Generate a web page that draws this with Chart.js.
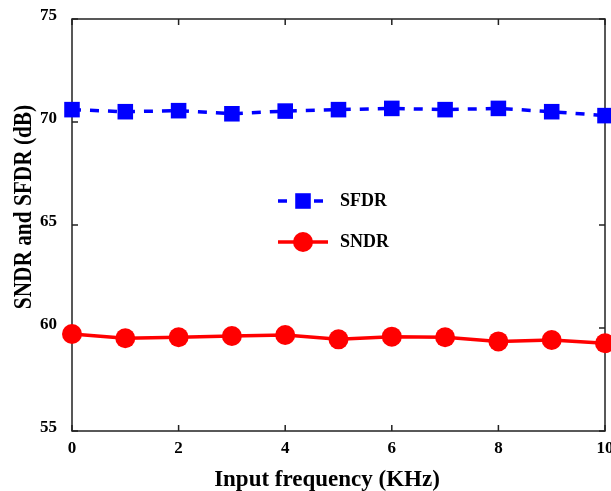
<!DOCTYPE html>
<html lang="en">

<head>
  <meta charset="UTF-8" />
  <title>SNDR and SFDR vs input frequency</title>
  <script src="https://cdn.jsdelivr.net/npm/chart.js"></script>
  <style>
    body {
      margin: 0;
      background: #ffffff;
    }

    #chart-container {
      width: 611px;
      height: 491px;
      position: relative;
    }
  </style>
</head>

<body>

  <div id="chart-container">
    <canvas id="dynChart"></canvas>
  </div>

  <script>
    // Input frequency (KHz)
    const freqs = [0, 1, 2, 3, 4, 5, 6, 7, 8, 9, 10];

    // Measured values (dB)
    const sfdr = [70.60, 70.50, 70.55, 70.40, 70.53, 70.60, 70.66, 70.60, 70.66, 70.50, 70.31];
    const sndr = [59.71, 59.50, 59.55, 59.61, 59.66, 59.45, 59.58, 59.55, 59.35, 59.42, 59.26];

    // Axis ticks
    const xTicks = [0, 2, 4, 6, 8, 10];
    const yTicks = [55, 60, 65, 70, 75];

    const xTitle = 'Input frequency (KHz)';
    const yTitle = 'SNDR and SFDR (dB)';

    const serif = '"Liberation Serif", "Times New Roman", serif';
    const BLUE = '#0000ff';
    const RED = '#ff0000';

    // box around the plot with small inward tick marks
    const framePlugin = {
      id: 'frame',
      beforeDatasetsDraw(chart) {
        const { ctx, chartArea: a, scales } = chart;
        const tl = 6;
        ctx.save();
        ctx.strokeStyle = '#222';
        ctx.lineWidth = 1.5;
        ctx.strokeRect(a.left, a.top, a.right - a.left, a.bottom - a.top);
        ctx.beginPath();
        xTicks.forEach(v => {
          const px = scales.x.getPixelForValue(v);
          ctx.moveTo(px, a.bottom); ctx.lineTo(px, a.bottom - tl);
          ctx.moveTo(px, a.top); ctx.lineTo(px, a.top + tl);
        });
        yTicks.forEach(v => {
          const py = scales.y.getPixelForValue(v);
          ctx.moveTo(a.left, py); ctx.lineTo(a.left + tl, py);
          ctx.moveTo(a.right, py); ctx.lineTo(a.right - tl, py);
        });
        ctx.stroke();
        ctx.restore();
      }
    };

    // axis titles, placed by hand (the vertical one is a bit condensed)
    const titlesPlugin = {
      id: 'axisTitles',
      afterDraw(chart) {
        const ctx = chart.ctx;
        ctx.save();
        ctx.fillStyle = '#000';
        ctx.textAlign = 'center';
        ctx.textBaseline = 'alphabetic';
        ctx.font = 'bold 23px ' + serif;
        ctx.fillText(xTitle, 327, 486);
        ctx.translate(31, 207);
        ctx.rotate(-Math.PI / 2);
        ctx.scale(0.82, 1);
        ctx.font = 'bold 26px ' + serif;
        ctx.fillText(yTitle, 0, 0);
        ctx.restore();
      }
    };

    // legend inside the plot, sample line with the marker in the middle
    const legendPlugin = {
      id: 'innerLegend',
      afterDraw(chart) {
        const ctx = chart.ctx;
        const x0 = 278, x1 = 328, xm = 303;
        const rows = [
          { y: 201, ds: chart.data.datasets[0] },
          { y: 242, ds: chart.data.datasets[1] }
        ];
        ctx.save();
        rows.forEach(r => {
          const ds = r.ds;
          ctx.strokeStyle = ds.borderColor;
          ctx.lineWidth = ds.borderWidth;
          ctx.setLineDash(ds.borderDash || []);
          ctx.beginPath();
          ctx.moveTo(x0, r.y); ctx.lineTo(x1, r.y);
          ctx.stroke();
          ctx.setLineDash([]);
          ctx.fillStyle = ds.pointBackgroundColor;
          if (ds.pointStyle === 'rect') {
            const s = ds.pointRadius * Math.SQRT1_2;
            ctx.fillRect(xm - s, r.y - s, 2 * s, 2 * s);
          } else {
            ctx.beginPath();
            ctx.arc(xm, r.y, ds.pointRadius, 0, Math.PI * 2);
            ctx.fill();
          }
          ctx.fillStyle = '#000';
          ctx.font = 'bold 18px ' + serif;
          ctx.textBaseline = 'middle';
          ctx.fillText(ds.label, 340, r.y);
        });
        ctx.restore();
      }
    };

    const ctx = document.getElementById('dynChart').getContext('2d');

    new Chart(ctx, {
      type: 'line',
      data: {
        labels: freqs,
        datasets: [
          {
            label: 'SFDR',
            data: freqs.map((f, i) => ({ x: f, y: sfdr[i] })),
            borderColor: BLUE,
            borderWidth: 3.5,
            borderDash: [9, 9],
            pointStyle: 'rect',
            pointRadius: 11,
            pointBackgroundColor: BLUE,
            pointBorderWidth: 0,
            tension: 0,
            clip: false
          },
          {
            label: 'SNDR',
            data: freqs.map((f, i) => ({ x: f, y: sndr[i] })),
            borderColor: RED,
            borderWidth: 3.5,
            pointStyle: 'circle',
            pointRadius: 10,
            pointBackgroundColor: RED,
            pointBorderWidth: 0,
            tension: 0,
            clip: false
          }
        ]
      },
      options: {
        responsive: true,
        maintainAspectRatio: false,
        animation: false,
        layout: { autoPadding: false, padding: { top: 19, right: 6, left: 0, bottom: 0 } },
        plugins: {
          legend: { display: false },
          tooltip: { enabled: false }
        },
        scales: {
          x: {
            type: 'linear',
            min: 0,
            max: 10,
            afterFit: s => { s.height = 60; s.paddingRight = 6; },
            afterBuildTicks: s => { s.ticks = xTicks.map(v => ({ value: v })); },
            grid: { display: false, drawTicks: false },
            border: { display: false },
            ticks: {
              padding: 7,
              color: '#000',
              font: { family: serif, size: 17, weight: 'bold' }
            }
          },
          y: {
            min: 55,
            max: 75,
            afterFit: s => { s.width = 72; s.paddingTop = 0; s.paddingBottom = 0; },
            afterBuildTicks: s => { s.ticks = yTicks.map(v => ({ value: v })); },
            grid: { display: false, drawTicks: false },
            border: { display: false },
            ticks: {
              padding: 15,
              labelOffset: -3,
              color: '#000',
              font: { family: serif, size: 17, weight: 'bold' }
            }
          }
        }
      },
      plugins: [framePlugin, titlesPlugin, legendPlugin]
    });
  </script>

</body>

</html>
